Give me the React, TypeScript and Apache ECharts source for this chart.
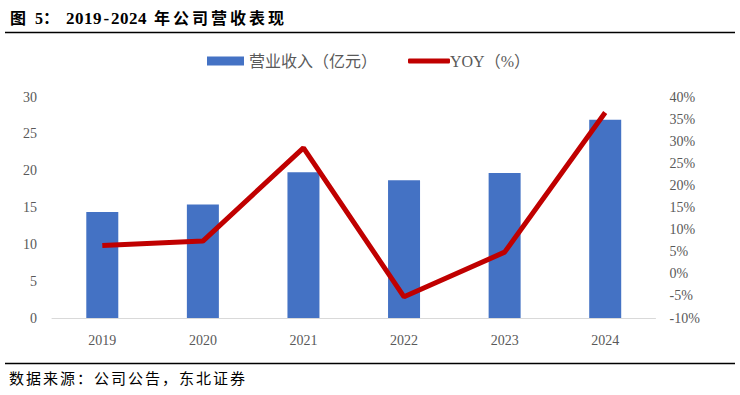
import React, { useEffect, useRef } from "react";
import * as echarts from "echarts";

const categories = ["2019", "2020", "2021", "2022", "2023", "2024"];
const revenue = [14.4, 15.4, 19.8, 18.7, 19.7, 26.9];
const yoy = [6.4, 7.4, 28.5, -5.2, 4.9, 36.5];
const leftTicks = { min: 0, max: 30, interval: 5 };
const rightTicks = { min: -10, max: 40, interval: 5 };

const FONT = "'Liberation Serif', 'Noto Sans CJK SC', serif";
const titleYears = "2019-2024";
const titleCJK = "年公司营收表现";
const sourceText = "数据来源：公司公告，东北证券";

export default function App() {
  const ref = useRef<HTMLDivElement>(null);
  useEffect(() => {
    document.body.style.margin = "0";
    const chart = echarts.init(ref.current!, undefined, { renderer: "svg" });
    const titleFont = `bold 16px ${FONT}`;
    const graphics: any[] = [
      { type: "text", left: 10, top: 10, style: { text: "图", font: titleFont, fill: "#000" } },
      { type: "text", left: 35, top: 10, style: { text: "5：", font: titleFont, fill: "#000" } },
    ];
    titleYears.split("").forEach((ch, i) => {
      graphics.push({
        type: "text",
        left: 66 + i * 9 + (ch === "-" ? 1.5 : 0),
        top: 10,
        style: { text: ch, font: `bold 17px ${FONT}`, fill: "#000" },
      });
    });
    titleCJK.split("").forEach((ch, i) => {
      graphics.push({
        type: "text",
        left: 154 + i * 19,
        top: 10,
        style: { text: ch, font: titleFont, fill: "#000" },
      });
    });
    sourceText.split("").forEach((ch, i) => {
      graphics.push({
        type: "text",
        left: 9 + i * 17,
        top: 371,
        style: { text: ch, font: `15px ${FONT}`, fill: "#000" },
      });
    });
    graphics.push(
      {
        type: "line",
        shape: { x1: 5, y1: 32.5, x2: 735, y2: 32.5 },
        style: { stroke: "#000000", lineWidth: 1.5 },
      },
      {
        type: "line",
        shape: { x1: 5, y1: 363.5, x2: 735, y2: 363.5 },
        style: { stroke: "#000000", lineWidth: 1.5 },
      }
    );
    chart.setOption({
      animation: false,
      backgroundColor: "#ffffff",
      textStyle: { fontFamily: FONT },
      grid: { left: 52, right: 84.5, top: 97, bottom: 77 },
      legend: [
        {
          top: 48,
          left: 202,
          itemWidth: 37,
          itemHeight: 9,
          textStyle: { fontSize: 16, color: "#595959", fontFamily: FONT },
          data: [{ name: "营业收入（亿元）", icon: "rect" }],
        },
        {
          top: 48,
          left: 403,
          itemWidth: 42,
          itemHeight: 5,
          textStyle: { fontSize: 16, color: "#595959", fontFamily: FONT, padding: [0, 0, 0, -5] },
          data: [{ name: "YOY（%）", icon: "roundRect" }],
        },
      ],
      xAxis: {
        type: "category",
        data: categories,
        axisLine: { lineStyle: { color: "#d9d9d9", width: 1 } },
        axisTick: { show: false },
        axisLabel: { color: "#595959", fontSize: 14, margin: 15, fontFamily: FONT },
      },
      yAxis: [
        {
          type: "value",
          ...leftTicks,
          splitLine: { show: false },
          axisLine: { show: false },
          axisTick: { show: false },
          axisLabel: { color: "#595959", fontSize: 14, margin: 15, fontFamily: FONT },
        },
        {
          type: "value",
          ...rightTicks,
          position: "right",
          splitLine: { show: false },
          axisLine: { show: false },
          axisTick: { show: false },
          axisLabel: {
            color: "#595959",
            fontSize: 14,
            margin: 14,
            formatter: "{value}%",
            fontFamily: FONT,
          },
        },
      ],
      series: [
        {
          name: "营业收入（亿元）",
          type: "bar",
          data: revenue,
          barWidth: 32,
          itemStyle: { color: "#4472C4" },
        },
        {
          name: "YOY（%）",
          type: "line",
          yAxisIndex: 1,
          data: yoy,
          symbol: "none",
          lineStyle: { color: "#C00000", width: 5 },
          itemStyle: { color: "#C00000" },
        },
      ],
      graphic: graphics,
    });
    return () => chart.dispose();
  }, []);
  return <div ref={ref} style={{ width: 740, height: 395 }} />;
}
